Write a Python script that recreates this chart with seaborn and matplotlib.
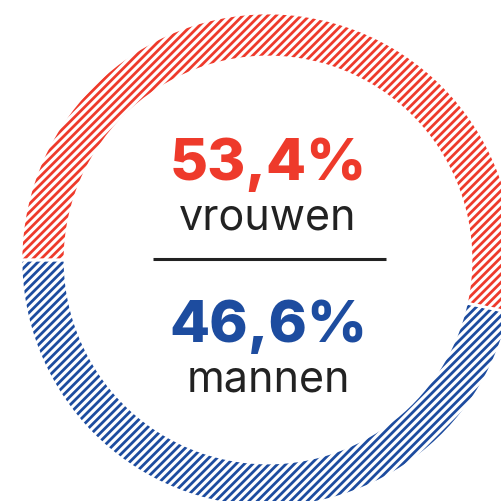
import matplotlib
matplotlib.use("Agg")
import matplotlib.pyplot as plt
import seaborn as sns

# data
labels = ["vrouwen", "mannen"]
shares = [53.4, 46.6]
share_labels = ["53,4%", "46,6%"]
colors = ["#ee3a2b", "#1d4c9f"]

sns.set_theme(style="white")
plt.rcParams["font.family"] = ["Inter", "DejaVu Sans"]
plt.rcParams["hatch.linewidth"] = 2.0

W = 502
fig = plt.figure(figsize=(W / 100, W / 100), dpi=100)
ax = fig.add_axes([0, 0, 1, 1])

cx, cy = 268, W - 261
wedges, _ = ax.pie(
    shares, radius=247, center=(cx, cy), startangle=180, counterclock=False,
    wedgeprops=dict(width=44, facecolor="white", linewidth=0, hatch="////"),
)
for w, c in zip(wedges, colors):
    w.set_edgecolor(c)
    if hasattr(w, "set_hatchcolor"):
        w.set_hatchcolor(c)

# thin white gaps between the segments
gaps, _ = ax.pie(
    shares, radius=247, center=(cx, cy), startangle=180, counterclock=False,
    wedgeprops=dict(width=44, fill=False, edgecolor="white", linewidth=2),
)

ax.set_xlim(0, W)
ax.set_ylim(0, W)
ax.set_aspect("equal")
ax.axis("off")

# centre texts
ax.text(cx, W - 180, share_labels[0], color=colors[0], fontsize=42,
        fontweight="heavy", ha="center", va="baseline")
ax.text(cx, W - 230, labels[0], color="#222222", fontsize=31,
        ha="center", va="baseline")
ax.plot([153, 386], [W - 260, W - 260], color="#222222", lw=2.2,
        solid_capstyle="butt")
ax.text(cx, W - 342, share_labels[1], color=colors[1], fontsize=42,
        fontweight="heavy", ha="center", va="baseline")
ax.text(cx, W - 392, labels[1], color="#222222", fontsize=31,
        ha="center", va="baseline")

fig.savefig("out.png", dpi=100)
